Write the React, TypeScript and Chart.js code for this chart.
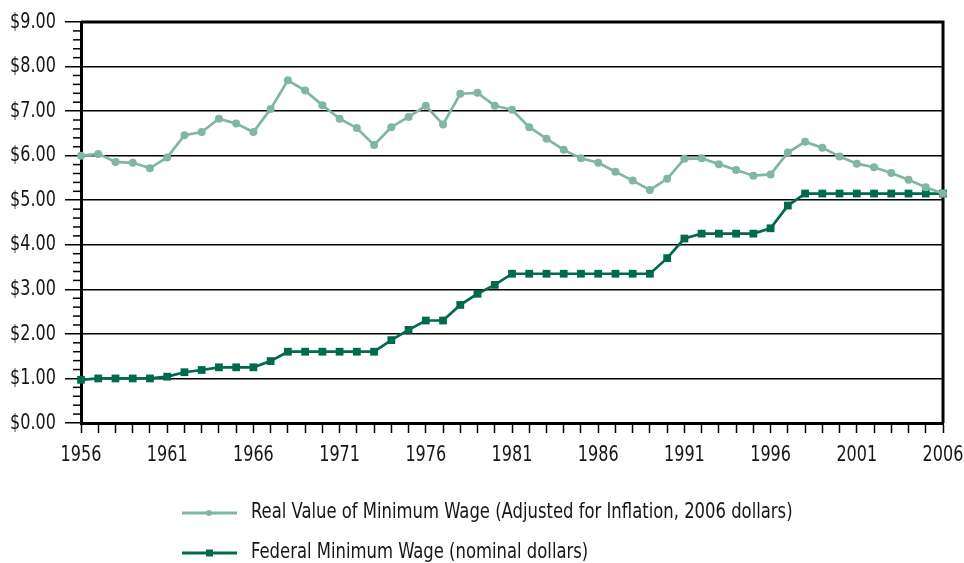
import React, { useEffect, useRef } from "react";
import { Chart, registerables } from "chart.js";

Chart.register(...registerables);

const years: string[] = [
  "1956", "1957", "1958", "1959", "1960", "1961", "1962", "1963", "1964", "1965",
  "1966", "1967", "1968", "1969", "1970", "1971", "1972", "1973", "1974", "1975",
  "1976", "1977", "1978", "1979", "1980", "1981", "1982", "1983", "1984", "1985",
  "1986", "1987", "1988", "1989", "1990", "1991", "1992", "1993", "1994", "1995",
  "1996", "1997", "1998", "1999", "2000", "2001", "2002", "2003", "2004", "2005",
  "2006",
];

const realValue: number[] = [
  6.0, 6.04, 5.86, 5.84, 5.72, 5.96, 6.46, 6.53, 6.83, 6.72,
  6.53, 7.05, 7.69, 7.46, 7.13, 6.83, 6.62, 6.24, 6.64, 6.87,
  7.12, 6.7, 7.39, 7.41, 7.12, 7.03, 6.64, 6.38, 6.13, 5.94,
  5.84, 5.64, 5.44, 5.23, 5.48, 5.93, 5.94, 5.81, 5.68, 5.55,
  5.58, 6.07, 6.31, 6.18, 5.98, 5.82, 5.74, 5.61, 5.46, 5.29,
  5.15,
];

const federalWage: number[] = [
  0.97, 1.0, 1.0, 1.0, 1.0, 1.04, 1.14, 1.19, 1.25, 1.25,
  1.25, 1.39, 1.6, 1.6, 1.6, 1.6, 1.6, 1.6, 1.86, 2.09,
  2.3, 2.3, 2.65, 2.9, 3.1, 3.35, 3.35, 3.35, 3.35, 3.35,
  3.35, 3.35, 3.35, 3.35, 3.7, 4.14, 4.25, 4.25, 4.25, 4.25,
  4.37, 4.88, 5.15, 5.15, 5.15, 5.15, 5.15, 5.15, 5.15, 5.15,
  5.15,
];

const seriesNames: string[] = [
  "Real Value of Minimum Wage (Adjusted for Inflation, 2006 dollars)",
  "Federal Minimum Wage (nominal dollars)",
];

const yTickValues: number[] = [0, 1, 2, 3, 4, 5, 6, 7, 8, 9];

const LIGHT = "#80b7a1";
const DARK = "#006a4f";
const TEXT = "#161616";
const FONT = "'DejaVu Sans Condensed', 'DejaVu Sans', sans-serif";

function narrowText(
  ctx: CanvasRenderingContext2D,
  text: string,
  x: number,
  y: number,
  sx: number,
  align: CanvasTextAlign,
  size: number
) {
  ctx.save();
  ctx.translate(x, y);
  ctx.scale(sx, 1);
  ctx.font = `${size}px ${FONT}`;
  ctx.fillStyle = TEXT;
  ctx.textAlign = align;
  ctx.textBaseline = "middle";
  ctx.fillText(text, 0, 0);
  ctx.restore();
}

const framePlugin = {
  id: "framePlugin",
  beforeDatasetsDraw(chart: any) {
    const { ctx, chartArea } = chart;
    const y = chart.scales.y;
    ctx.save();
    ctx.strokeStyle = "#000";
    ctx.lineWidth = 1.5;
    for (let i = 0; i < yTickValues.length - 1; i++) {
      for (let k = 1; k < 5; k++) {
        const v = yTickValues[i] + k * 0.2;
        const py = y.getPixelForValue(v);
        ctx.beginPath();
        ctx.moveTo(chartArea.left - 8, py);
        ctx.lineTo(chartArea.left, py);
        ctx.stroke();
      }
    }
    ctx.lineWidth = 3;
    ctx.beginPath();
    ctx.moveTo(chartArea.left, chartArea.top);
    ctx.lineTo(chartArea.right, chartArea.top);
    ctx.lineTo(chartArea.right, chartArea.bottom);
    ctx.stroke();
    ctx.restore();
  },
  afterDraw(chart: any) {
    const { ctx, chartArea } = chart;
    const xs = chart.scales.x;
    const ys = chart.scales.y;
    for (const v of yTickValues) {
      narrowText(ctx, "$" + v.toFixed(2), chartArea.left - 25, ys.getPixelForValue(v), 0.81, "right", 22);
    }
    years.forEach((yr, i) => {
      if (i % 5 === 0) {
        narrowText(ctx, yr, xs.getPixelForValue(i), chartArea.bottom + 32, 0.81, "center", 22);
      }
    });
    ctx.save();
    const items = [
      { text: seriesNames[0], color: LIGHT, y: 513, shape: "circle" },
      { text: seriesNames[1], color: DARK, y: 553, shape: "rect" },
    ];
    for (const it of items) {
      ctx.strokeStyle = it.color;
      ctx.fillStyle = it.color;
      ctx.lineWidth = 3;
      ctx.beginPath();
      ctx.moveTo(182, it.y);
      ctx.lineTo(237, it.y);
      ctx.stroke();
      if (it.shape === "circle") {
        ctx.beginPath();
        ctx.arc(209, it.y, 3, 0, Math.PI * 2);
        ctx.fill();
      } else {
        ctx.fillRect(206, it.y - 3.5, 7, 7);
      }
      narrowText(ctx, it.text, 251, it.y, 0.87, "left", 21);
    }
    ctx.restore();
  },
};

export default function App() {
  const canvasRef = useRef<HTMLCanvasElement | null>(null);

  useEffect(() => {
    if (!canvasRef.current) return;
    const chart = new Chart(canvasRef.current, {
      type: "line",
      data: {
        labels: years,
        datasets: [
          {
            label: seriesNames[0],
            data: realValue,
            borderColor: LIGHT,
            backgroundColor: LIGHT,
            borderWidth: 2.7,
            pointStyle: "circle",
            pointRadius: 4,
            pointBorderWidth: 0,
            tension: 0,
            clip: false as any,
          },
          {
            label: seriesNames[1],
            data: federalWage,
            borderColor: DARK,
            backgroundColor: DARK,
            borderWidth: 2.7,
            pointStyle: "rect",
            pointRadius: 5.5,
            pointBorderWidth: 0,
            tension: 0,
            clip: false as any,
          },
        ],
      },
      options: {
        responsive: false,
        animation: false,
        layout: { padding: { top: 22, right: 21, bottom: 100, left: 0 } },
        plugins: {
          legend: { display: false },
          tooltip: { enabled: false },
        },
        scales: {
          x: {
            type: "category",
            offset: false,
            grid: {
              drawOnChartArea: false,
              drawTicks: true,
              tickLength: 10,
              tickColor: "#000",
              tickWidth: 1.5,
            },
            border: { display: true, color: "#000", width: 3 },
            ticks: {
              display: false,
              autoSkip: false,
              maxRotation: 0,
            },
            afterFit: (s: any) => {
              s.height = 40;
            },
          },
          y: {
            min: 0,
            max: 9,
            grid: {
              color: "#000",
              lineWidth: 1.5,
              drawTicks: true,
              tickLength: 16,
              tickColor: "#000",
              tickWidth: 1.5,
            },
            border: { display: true, color: "#000", width: 3 },
            ticks: {
              display: false,
              stepSize: 1,
            },
            afterFit: (s: any) => {
              s.width = 81;
            },
          },
        },
      },
      plugins: [framePlugin],
    });
    return () => chart.destroy();
  }, []);

  return (
    <div style={{ position: "absolute", left: 0, top: 0, width: 964, height: 563, background: "#fff" }}>
      <canvas ref={canvasRef} width={964} height={563} style={{ display: "block" }} />
    </div>
  );
}
